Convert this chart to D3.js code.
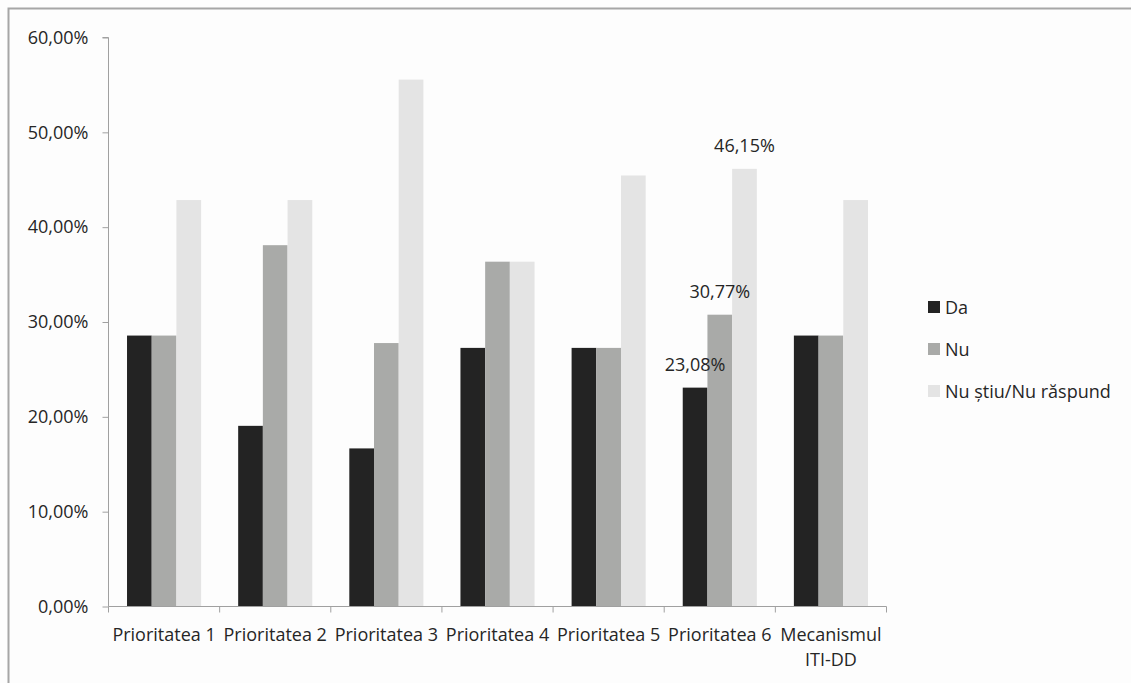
<!DOCTYPE html>
<html>
<head>
<meta charset="utf-8">
<script src="https://cdn.jsdelivr.net/npm/d3@7"></script>
<style>
  html, body { margin: 0; padding: 0; background: #ffffff; }
  svg { display: block; }
  text { font-family: "Open Sans", "Noto Sans", sans-serif; fill: #262626; }
</style>
</head>
<body>
<svg id="chart" width="1131" height="683"></svg>
<script>
// Categories and series (percentages)
const categories = ["Prioritatea 1", "Prioritatea 2", "Prioritatea 3", "Prioritatea 4", "Prioritatea 5", "Prioritatea 6", "Mecanismul ITI-DD"];
const seriesNames = ["Da", "Nu", "Nu știu/Nu răspund"];
const da  = [28.57, 19.05, 16.67, 27.27, 27.27, 23.08, 28.57];
const nu  = [28.57, 38.10, 27.78, 36.36, 27.27, 30.77, 28.57];
const ns  = [42.86, 42.86, 55.56, 36.36, 45.45, 46.15, 42.86];
const yTicks = [0, 10, 20, 30, 40, 50, 60];
// Values printed above their bars: [series index, category index]
const labelled = [[0, 5], [1, 5], [2, 5]];

const seriesValues = [da, nu, ns];
const colors = ["#232323", "#a9aaa8", "#e4e4e4"];
const FS = 18;
const FONT = "'Open Sans', 'Noto Sans', sans-serif";

const svg = d3.select("#chart");
const W = 1131, H = 683;

// chart frame
svg.append("rect").attr("x", 0).attr("y", 0).attr("width", W).attr("height", H).attr("fill", "#fdfdfd");
svg.append("path")
  .attr("d", `M8.5,${H} L8.5,8.5 L${W},8.5`)
  .attr("fill", "none").attr("stroke", "#a6a6a6").attr("stroke-width", 2);

const plot = { left: 108.5, right: 886.5, top: 37.5, bottom: 606.5 };

const x0 = d3.scaleBand().domain(categories).range([plot.left, plot.right]).paddingInner(0).paddingOuter(0);
const bw = x0.bandwidth() / 4.5;          // three bars plus a gap of 1.5 bar widths
const x1 = d3.scaleBand().domain(seriesNames).range([0, bw * 3]);
const y = d3.scaleLinear().domain([0, 60]).range([plot.bottom, plot.top]);

const fmt = v => d3.format(".2f")(v).replace(".", ",") + "%";

// bars
const g = svg.append("g");
seriesValues.forEach((vals, si) => {
  g.selectAll(null).data(categories).enter().append("rect")
    .attr("x", (c) => x0(c) + bw * 0.75 + x1(seriesNames[si]))
    .attr("y", (c, i) => y(vals[i]))
    .attr("width", x1.bandwidth())
    .attr("height", (c, i) => y(0) - y(vals[i]))
    .attr("fill", colors[si]);
});

// y axis
const yAxis = d3.axisLeft(y).tickValues(yTicks).tickSize(6).tickPadding(14).tickFormat(fmt);
const ya = svg.append("g").attr("transform", `translate(${plot.left},0)`).call(yAxis);
ya.select(".domain").attr("stroke", "#a0a0a0").attr("d", `M-6,${plot.top}H0V${plot.bottom}`);
ya.selectAll(".tick line").attr("stroke", "#a0a0a0");
ya.selectAll(".tick text").attr("font-size", FS).attr("fill", "#262626").attr("font-family", FONT);

// x axis with ticks at the category boundaries
const xa = svg.append("g").attr("transform", `translate(0,${plot.bottom})`);
xa.append("line").attr("x1", plot.left).attr("x2", plot.right).attr("stroke", "#a0a0a0");
const bounds = categories.map(c => x0(c)).concat([plot.right]);
xa.selectAll(".bt").data(bounds).enter().append("line")
  .attr("x1", d => d).attr("x2", d => d).attr("y1", 0).attr("y2", 6).attr("stroke", "#a0a0a0");
xa.selectAll(".cl").data(categories).enter().append("text")
  .attr("x", c => x0(c) + x0.bandwidth() / 2)
  .attr("y", 34)
  .attr("text-anchor", "middle")
  .attr("font-size", FS)
  .each(function(c) {
    const words = c === "Mecanismul ITI-DD" ? ["Mecanismul", "ITI-DD"] : [c];
    const t = d3.select(this);
    words.forEach((w, k) => t.append("tspan").attr("x", x0(c) + x0.bandwidth() / 2).attr("dy", k === 0 ? 0 : 25).text(w));
  });

// data labels
svg.selectAll(".dl").data(labelled).enter().append("text")
  .attr("x", d => x0(categories[d[1]]) + bw * 0.75 + x1(seriesNames[d[0]]) + x1.bandwidth() / 2)
  .attr("y", d => y(seriesValues[d[0]][d[1]]) - 17)
  .attr("text-anchor", "middle")
  .attr("font-size", FS)
  .text(d => fmt(seriesValues[d[0]][d[1]]));

// legend
const lg = svg.append("g").attr("transform", "translate(928,301)");
seriesNames.forEach((s, i) => {
  const row = lg.append("g").attr("transform", `translate(0,${i * 42})`);
  row.append("rect").attr("x", 0).attr("y", 0).attr("width", 12).attr("height", 12).attr("fill", colors[i]);
  row.append("text").attr("x", 17).attr("y", 12.5).attr("font-size", FS).text(s);
});
</script>
</body>
</html>
